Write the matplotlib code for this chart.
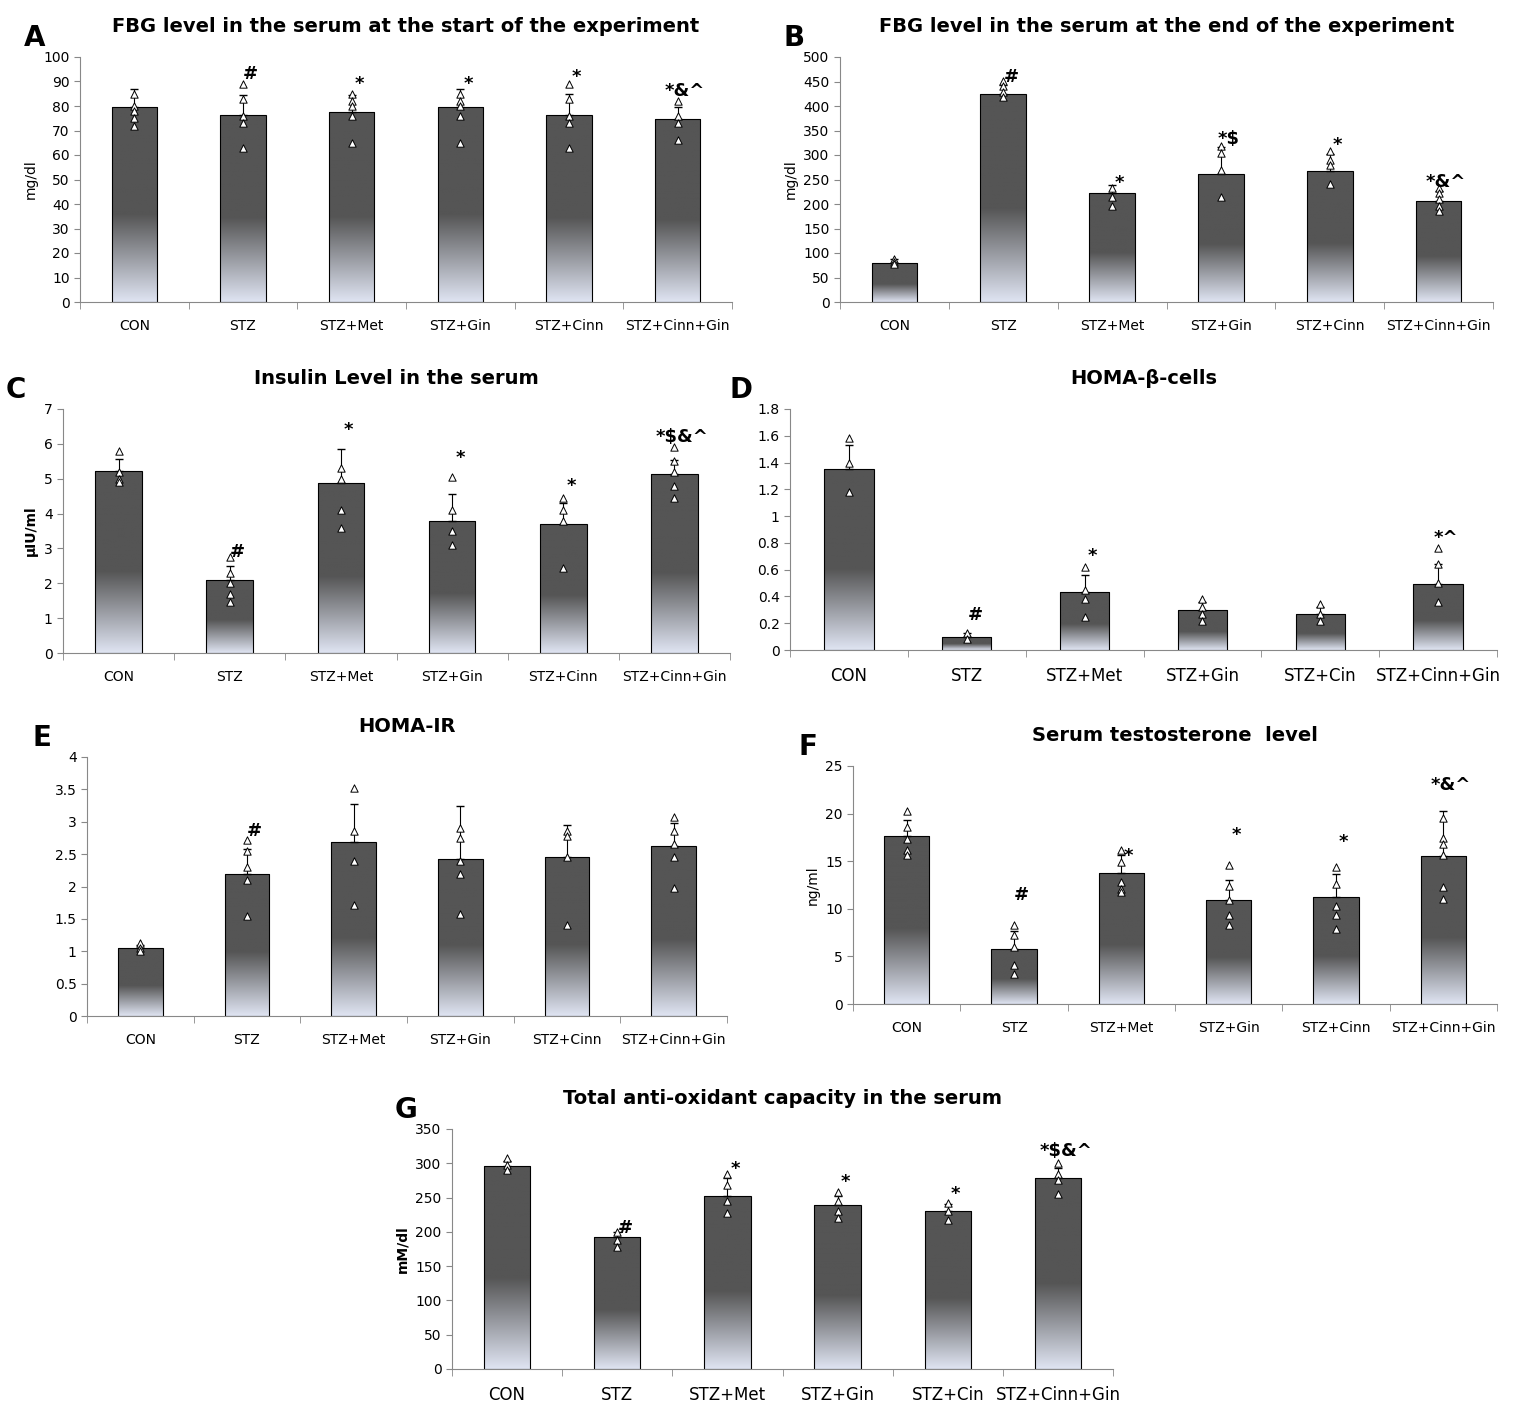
import numpy as np
import matplotlib.pyplot as plt
from matplotlib.colors import LinearSegmentedColormap

W, H = 1516, 1413
groups = ["CON", "STZ", "STZ+Met", "STZ+Gin", "STZ+Cinn", "STZ+Cinn+Gin"]
groups_d = ["CON", "STZ", "STZ+Met", "STZ+Gin", "STZ+Cin", "STZ+Cinn+Gin"]

a_mean = [79.5, 76.5, 77.5, 79.5, 76.5, 74.5]
a_err = [7.5, 8, 7, 7.5, 8.5, 5]
a_pts = [[85, 80, 78, 75, 72], [89, 83, 76, 73, 63], [85, 82, 80, 76, 65],
         [85, 82, 80, 76, 65], [89, 83, 76, 73, 63], [82, 76, 73, 66]]
a_sig = ["", "#", "*", "*", "*", "*&^"]
a_sigy = [0, 93, 89, 89, 92, 86]

b_mean = [80, 425, 223, 262, 267, 207]
b_err = [8, 18, 15, 55, 35, 20]
b_pts = [[88, 82, 78], [452, 440, 428, 418], [232, 215, 195], [318, 305, 270, 215],
         [308, 290, 280, 240], [232, 222, 210, 195, 185]]
b_sig = ["", "#", "*", "*$", "*", "*&^"]
b_sigy = [0, 460, 242, 333, 320, 245]

c_mean = [5.22, 2.1, 4.88, 3.8, 3.7, 5.13]
c_err = [0.35, 0.4, 0.97, 0.75, 0.6, 0.4]
c_pts = [[5.8, 5.2, 5.0, 4.9], [2.75, 2.3, 2.0, 1.7, 1.45], [5.3, 5.0, 4.1, 3.6],
         [5.05, 4.1, 3.5, 3.1], [4.45, 4.1, 3.8, 2.45], [5.9, 5.5, 5.2, 4.8, 4.45]]
c_sig = ["", "#", "*", "*", "*", "*$&^"]
c_sigy = [0, 2.9, 6.4, 5.6, 4.8, 6.2]

d_mean = [1.35, 0.1, 0.43, 0.3, 0.27, 0.49]
d_err = [0.18, 0.03, 0.13, 0.06, 0.05, 0.15]
d_pts = [[1.58, 1.4, 1.18], [0.13, 0.08], [0.62, 0.45, 0.38, 0.25],
         [0.38, 0.32, 0.27, 0.22], [0.34, 0.27, 0.22], [0.76, 0.64, 0.5, 0.36]]
d_sig = ["", "#", "*", "", "", "*^"]
d_sigy = [0, 0.26, 0.7, 0, 0, 0.84]

e_mean = [1.05, 2.2, 2.68, 2.43, 2.45, 2.63]
e_err = [0.05, 0.38, 0.6, 0.82, 0.5, 0.35]
e_pts = [[1.12, 1.05, 1.0], [2.72, 2.55, 2.3, 2.1, 1.55], [3.52, 2.85, 2.4, 1.72],
         [2.9, 2.75, 2.4, 2.2, 1.58], [2.85, 2.78, 2.45, 1.4], [3.07, 2.85, 2.65, 2.45, 1.98]]
e_sig = ["", "#", "", "", "", ""]
e_sigy = [0, 2.85, 0, 0, 0, 0]

f_mean = [17.6, 5.8, 13.8, 10.9, 11.2, 15.5]
f_err = [1.7, 1.9, 1.8, 2.1, 2.5, 4.8]
f_pts = [[20.3, 18.6, 17.3, 16.2, 15.7], [8.3, 7.3, 6, 4.1, 3.2], [16.2, 14.9, 12.8, 12.1, 11.8],
         [14.6, 12.4, 10.9, 9.4, 8.3], [14.4, 12.6, 10.3, 9.4, 7.9], [19.5, 17.4, 16.8, 15.6, 12.3, 11]]
f_sig = ["", "#", "*", "*", "*", "*&^"]
f_sigy = [0, 11.5, 15.5, 17.7, 17.0, 23.0]

g_mean = [296, 192, 253, 239, 230, 278]
g_err = [8, 8, 25, 13, 10, 15]
g_pts = [[308, 298, 290], [200, 188, 178], [285, 268, 245, 228], [258, 245, 230, 220],
         [242, 230, 218], [300, 285, 275, 255]]
g_sig = ["", "#", "*", "*", "*", "*$&^"]
g_sigy = [0, 205, 292, 272, 255, 318]

cmap = LinearSegmentedColormap.from_list("bar", [(0, "#dfe4f2"), (0.45, "#555555"), (1, "#555555")])
grad = np.linspace(0, 1, 256).reshape(-1, 1)

fig = plt.figure(figsize=(W / 100, H / 100), dpi=100)


def panel(letter, title, box, ymax, ystep, ylabel, labels, mean, err, pts, sig, sigy,
          tfs=10, lfs=14, ticks_fmt=None, yfs=10):
    x0, y0, x1, y1 = box
    ax = fig.add_axes([x0 / W, 1 - y1 / H, (x1 - x0) / W, (y1 - y0) / H])
    n = len(mean)
    xs = np.arange(n)
    bars = ax.bar(xs, mean, width=0.42, color="none", edgecolor="black", linewidth=0.8, zorder=2)
    for b in bars:
        im = ax.imshow(grad, cmap=cmap, origin="lower", aspect="auto",
                       extent=[b.get_x(), b.get_x() + b.get_width(), 0, b.get_height()], zorder=1)
        im.set_clip_path(b)
    ax.errorbar(xs, mean, yerr=[np.zeros(n), err], fmt="none", ecolor="black",
                elinewidth=0.8, capsize=3, zorder=3)
    for i, p in enumerate(pts):
        ax.scatter([i] * len(p), p, marker="^", s=28, facecolor="white", edgecolor="black",
                   linewidth=0.7, zorder=4)
        if sig[i]:
            ax.text(i + 0.07, sigy[i], sig[i], ha="center", va="center", fontsize=13,
                    fontweight="bold", zorder=5)
    ax.set_xlim(-0.5, n - 0.5)
    ax.set_ylim(0, ymax)
    ax.set_yticks(np.arange(0, ymax + ystep / 2, ystep))
    if ticks_fmt:
        ax.set_yticklabels([ticks_fmt(v) for v in np.arange(0, ymax + ystep / 2, ystep)])
    ax.set_xticks(xs)
    ax.set_xticklabels(labels, fontsize=tfs)
    ax.set_xticks(np.arange(-0.5, n, 1), minor=True)
    ax.tick_params(axis="x", which="major", length=0, pad=12)
    ax.tick_params(axis="x", which="minor", length=5, color="#888888")
    ax.tick_params(axis="y", labelsize=yfs, color="#888888", length=4)
    for s in ["top", "right"]:
        ax.spines[s].set_visible(False)
    for s in ["left", "bottom"]:
        ax.spines[s].set_color("#888888")
    ax.set_ylabel(ylabel, fontsize=10, fontweight="bold" if ylabel in ("µIU/ml", "mM/dl") else "normal")
    ax.set_title(title, fontsize=lfs, fontweight="bold", pad=18)
    ax.text(-0.07, 1.02, letter, transform=ax.transAxes, fontsize=20, fontweight="bold",
            ha="center", va="bottom")
    return ax


def g(v):
    return ("%g" % round(v, 2))


panel("A", "FBG level in the serum at the start of the experiment", (80, 57, 732, 302), 100, 10,
      "mg/dl", groups, a_mean, a_err, a_pts, a_sig, a_sigy)
panel("B", "FBG level in the serum at the end of the experiment", (840, 57, 1493, 302), 500, 50,
      "mg/dl", groups, b_mean, b_err, b_pts, b_sig, b_sigy)
panel("C", "Insulin Level in the serum", (63, 409, 730, 653), 7, 1,
      "µIU/ml", groups, c_mean, c_err, c_pts, c_sig, c_sigy)
panel("D", "HOMA-β-cells", (790, 409, 1497, 650), 1.8, 0.2,
      "", groups_d, d_mean, d_err, d_pts, d_sig, d_sigy, tfs=12, ticks_fmt=g)
panel("E", "HOMA-IR", (87, 757, 727, 1016), 4, 0.5,
      "", groups, e_mean, e_err, e_pts, e_sig, e_sigy, ticks_fmt=g)
panel("F", "Serum testosterone  level", (853, 766, 1497, 1004), 25, 5,
      "ng/ml", groups, f_mean, f_err, f_pts, f_sig, f_sigy)
panel("G", "Total anti-oxidant capacity in the serum", (452, 1129, 1113, 1369), 350, 50,
      "mM/dl", groups_d[:5] + ["STZ+Cinn+Gin"], g_mean, g_err, g_pts, g_sig, g_sigy, tfs=12)

fig.savefig("out.png", dpi=100)
